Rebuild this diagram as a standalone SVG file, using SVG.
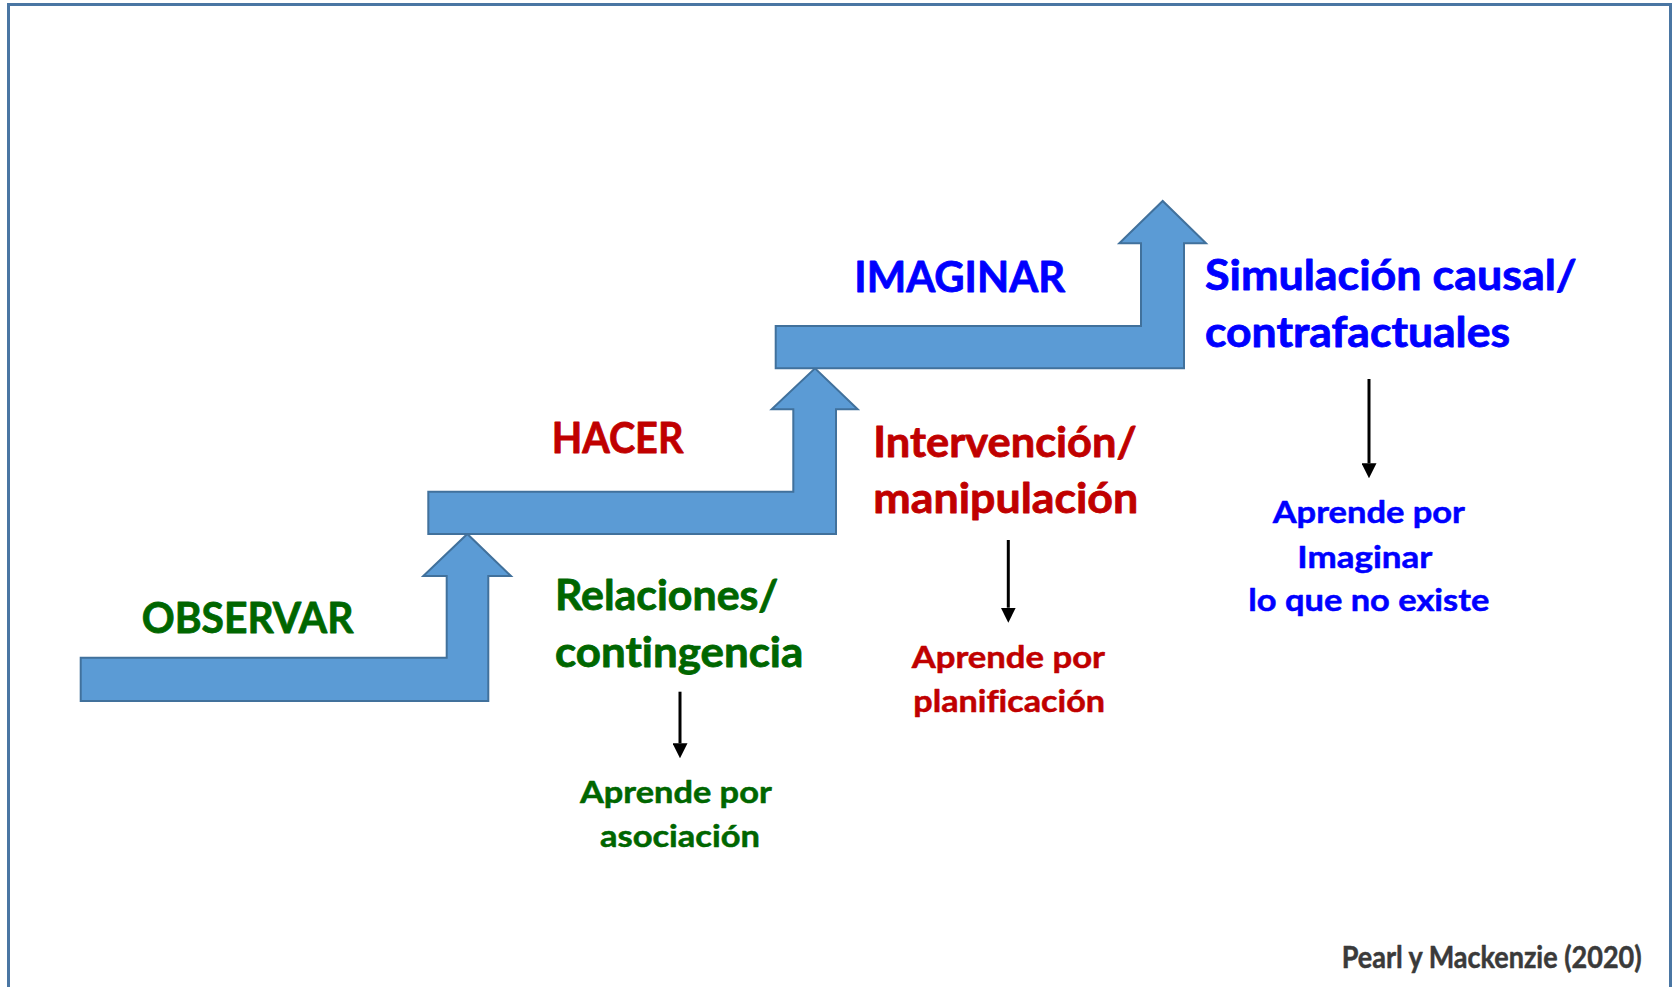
<svg xmlns="http://www.w3.org/2000/svg" width="1674" height="987" viewBox="0 0 1674 987">
<style>
.step{fill:#5b9bd5;stroke:#41719c;stroke-width:2;stroke-linejoin:miter}
.t{font-family:Lato,"Open Sans","Liberation Sans",sans-serif;font-weight:bold;font-variant-ligatures:none;stroke-width:0.8;stroke-linejoin:round}
.big{font-size:41.5px}
.small{font-size:30px;stroke-width:0.5}
.g{fill:#006600;stroke:#006600}.r{fill:#c00000;stroke:#c00000}.b{fill:#0000ff;stroke:#0000ff}
.conn{stroke:#000;stroke-width:3;fill:none}
</style>
<defs>
<marker id="ah" markerUnits="userSpaceOnUse" markerWidth="15" markerHeight="15" refX="0" refY="7.5" orient="auto">
<path d="M0,0 L15,7.5 L0,15 z" fill="#000"/>
</marker>
</defs>
<rect x="0" y="0" width="1674" height="987" fill="#fff"/>
<rect x="8.5" y="4.5" width="1662" height="1000" fill="none" stroke="#4a76a3" stroke-width="3"/>

<g id="step-observar">
<polygon class="step" points="80.7,657.7 446.7,657.7 446.7,576 423.3,576 467.3,534 511,576 488.3,576 488.3,701 80.7,701"/>
<text class="t big g" x="141.7" y="632.7" textLength="211.7" lengthAdjust="spacingAndGlyphs">OBSERVAR</text>
</g>
<g id="step-hacer">
<polygon class="step" points="428.3,491.7 793.3,491.7 793.3,409.3 771.7,409.3 815,368.3 857.7,409.3 836,409.3 836,534 428.3,534"/>
<text class="t big r" x="551.7" y="453.3" textLength="131.7" lengthAdjust="spacingAndGlyphs">HACER</text>
</g>
<g id="step-imaginar">
<polygon class="step" points="775.7,326 1141,326 1141,243.3 1119.3,243.3 1162.7,201 1206,243.3 1184,243.3 1184,368.3 775.7,368.3"/>
<text class="t big b" x="854.3" y="291.7" textLength="210.7" lengthAdjust="spacingAndGlyphs">IMAGINAR</text>
</g>

<g id="desc-relaciones">
<text class="t big g" x="555" y="609.5" textLength="223.3" lengthAdjust="spacingAndGlyphs">Relaciones/</text>
<text class="t big g" x="555" y="667.3" textLength="248.3" lengthAdjust="spacingAndGlyphs">contingencia</text>
</g>
<g id="learn-asociacion">
<text class="t small g" x="580" y="802.7" textLength="191.7" lengthAdjust="spacingAndGlyphs">Aprende por</text>
<text class="t small g" x="600" y="846.7" textLength="160" lengthAdjust="spacingAndGlyphs">asociación</text>
</g>

<g id="desc-intervencion">
<text class="t big r" x="873.3" y="456.7" textLength="263.4" lengthAdjust="spacingAndGlyphs">Intervención/</text>
<text class="t big r" x="873.3" y="513.3" textLength="265" lengthAdjust="spacingAndGlyphs">manipulación</text>
</g>
<g id="learn-planificacion">
<text class="t small r" x="911.7" y="668.3" textLength="193.3" lengthAdjust="spacingAndGlyphs">Aprende por</text>
<text class="t small r" x="913.3" y="711.7" textLength="191.7" lengthAdjust="spacingAndGlyphs">planificación</text>
</g>

<g id="desc-simulacion">
<text class="t big b" x="1205" y="290" textLength="371.7" lengthAdjust="spacingAndGlyphs">Simulación causal/</text>
<text class="t big b" x="1205" y="347.3" textLength="305" lengthAdjust="spacingAndGlyphs">contrafactuales</text>
</g>
<g id="learn-imaginar">
<text class="t small b" x="1272.7" y="523.3" textLength="192.3" lengthAdjust="spacingAndGlyphs">Aprende por</text>
<text class="t small b" x="1297.3" y="568.3" textLength="135" lengthAdjust="spacingAndGlyphs">Imaginar</text>
<text class="t small b" x="1248.3" y="611" textLength="241" lengthAdjust="spacingAndGlyphs">lo que no existe</text>
</g>

<g id="connectors">
<line class="conn" x1="680" y1="691.7" x2="680" y2="743.3" marker-end="url(#ah)"/>
<line class="conn" x1="1008.3" y1="540" x2="1008.3" y2="607.7" marker-end="url(#ah)"/>
<line class="conn" x1="1369" y1="379" x2="1369" y2="463.3" marker-end="url(#ah)"/>
</g>

<g id="citation">
<text class="t small" fill="#3a3a3a" stroke="#3a3a3a" x="1341.7" y="968.3" font-size="29px" textLength="300" lengthAdjust="spacingAndGlyphs">Pearl y Mackenzie (2020)</text>
</g>
</svg>
